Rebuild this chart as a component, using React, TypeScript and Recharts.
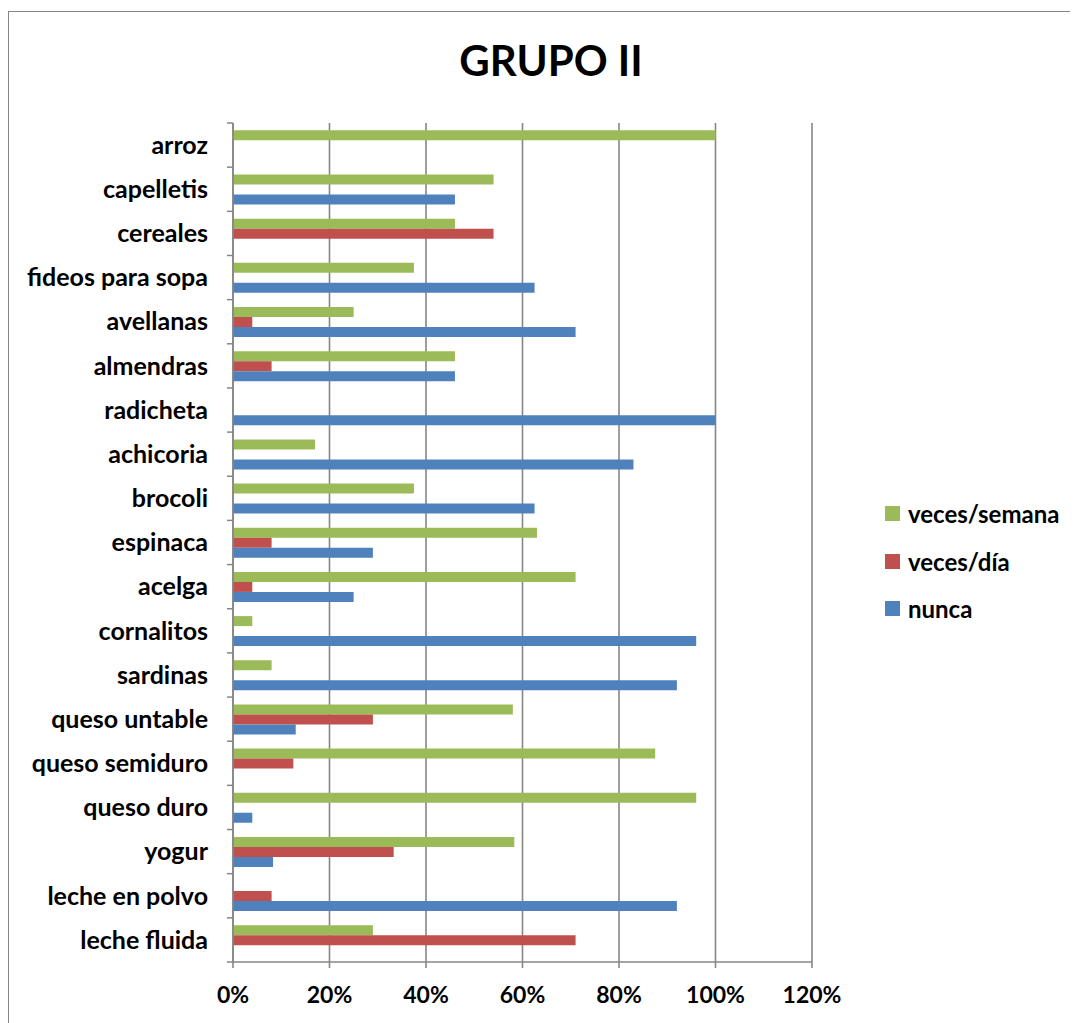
import React from 'react';
import { BarChart, Bar, XAxis, YAxis, CartesianGrid } from 'recharts';

// food items, top to bottom
const alimentos = [
  'arroz', 'capelletis', 'cereales', 'fideos para sopa', 'avellanas', 'almendras',
  'radicheta', 'achicoria', 'brocoli', 'espinaca', 'acelga', 'cornalitos', 'sardinas',
  'queso untable', 'queso semiduro', 'queso duro', 'yogur', 'leche en polvo', 'leche fluida',
];

// percentage of answers per frequency
const vecesSemana = [100, 54, 46, 37.5, 25, 46, 0, 17, 37.5, 63, 71, 4, 8, 58, 87.5, 96, 58.3, 0, 29];
const vecesDia = [0, 0, 54, 0, 4, 8, 0, 0, 0, 8, 4, 0, 0, 29, 12.5, 0, 33.3, 8, 71];
const nunca = [0, 46, 0, 62.5, 71, 46, 100, 83, 62.5, 29, 25, 96, 92, 13, 0, 4, 8.3, 92, 0];

const xTicks = [0, 20, 40, 60, 80, 100, 120];

const series = [
  { key: 'semana', name: 'veces/semana', color: '#9BBB59' },
  { key: 'dia', name: 'veces/día', color: '#C0504D' },
  { key: 'nunca', name: 'nunca', color: '#4F81BD' },
];

const data = alimentos.map((name, i) => ({
  name,
  semana: vecesSemana[i],
  dia: vecesDia[i],
  nunca: nunca[i],
}));

const FONT = 'Lato, "Open Sans", sans-serif';
const AXIS = '#868686';

const W = 1069;
const H = 1011;
const MARGIN = { top: 111, right: 266, bottom: 11, left: 0 };
const Y_WIDTH = 224;
const X_HEIGHT = 50;
const BAND = (H - MARGIN.top - MARGIN.bottom - X_HEIGHT) / alimentos.length;

// category label plus a tick mark on the boundary above it
const CategoryTick = (props: any) => {
  const { x, y, payload, index } = props;
  const axisX = x + 25;
  const last = index === alimentos.length - 1;
  return (
    <g>
      <line x1={axisX - 6} x2={axisX} y1={y - BAND / 2} y2={y - BAND / 2} stroke={AXIS} strokeWidth={1.5} />
      {last && (
        <line x1={axisX - 6} x2={axisX} y1={y + BAND / 2} y2={y + BAND / 2} stroke={AXIS} strokeWidth={1.5} />
      )}
      <text x={x} y={y} dy="0.35em" textAnchor="end" fill="#000" fontSize={25} fontWeight={700} fontFamily={FONT}>
        {payload.value}
      </text>
    </g>
  );
};

export default function App() {
  return (
    <div
      style={{
        position: 'relative',
        marginTop: 3,
        width: 1070,
        height: 1012,
        boxSizing: 'border-box',
        borderLeft: `1.5px solid ${AXIS}`,
        borderTop: `1.5px solid ${AXIS}`,
        background: '#fff',
      }}
    >
      <div
        style={{
          position: 'absolute',
          left: 0,
          top: 23,
          width: 1084,
          textAlign: 'center',
          fontFamily: FONT,
          fontWeight: 700,
          fontSize: 42,
          color: '#000',
        }}
      >
        GRUPO II
      </div>
      <div
        style={{
          position: 'absolute',
          left: 876,
          top: 478,
          fontFamily: FONT,
          fontWeight: 700,
          fontSize: 24,
          color: '#000',
        }}
      >
        {series.map((s) => (
          <div key={s.key} style={{ height: 47.5, display: 'flex', alignItems: 'center' }}>
            <span style={{ width: 15, height: 15, background: s.color, marginRight: 8, display: 'inline-block' }} />
            {s.name}
          </div>
        ))}
      </div>
      <BarChart
        width={W}
        height={H}
        data={data}
        layout="vertical"
        margin={MARGIN}
        barCategoryGap="16.67%"
        barGap={0}
      >
        <CartesianGrid horizontal={false} stroke={AXIS} strokeWidth={1.6} />
        <XAxis
          type="number"
          domain={[0, 120]}
          ticks={xTicks}
          interval={0}
          height={X_HEIGHT}
          tickFormatter={(v) => `${v}%`}
          stroke={AXIS}
          strokeWidth={1.6}
          tickSize={6}
          tickMargin={19}
          tick={{ fill: '#000', fontSize: 23, fontWeight: 700, fontFamily: FONT }}
        />
        <YAxis
          type="category"
          dataKey="name"
          width={Y_WIDTH}
          interval={0}
          stroke={AXIS}
          strokeWidth={1.6}
          tickLine={false}
          tickSize={6}
          tickMargin={19}
          tick={<CategoryTick />}
        />
        {series.map((s) => (
          <Bar key={s.key} dataKey={s.key} name={s.name} fill={s.color} isAnimationActive={false} />
        ))}
      </BarChart>
    </div>
  );
}
